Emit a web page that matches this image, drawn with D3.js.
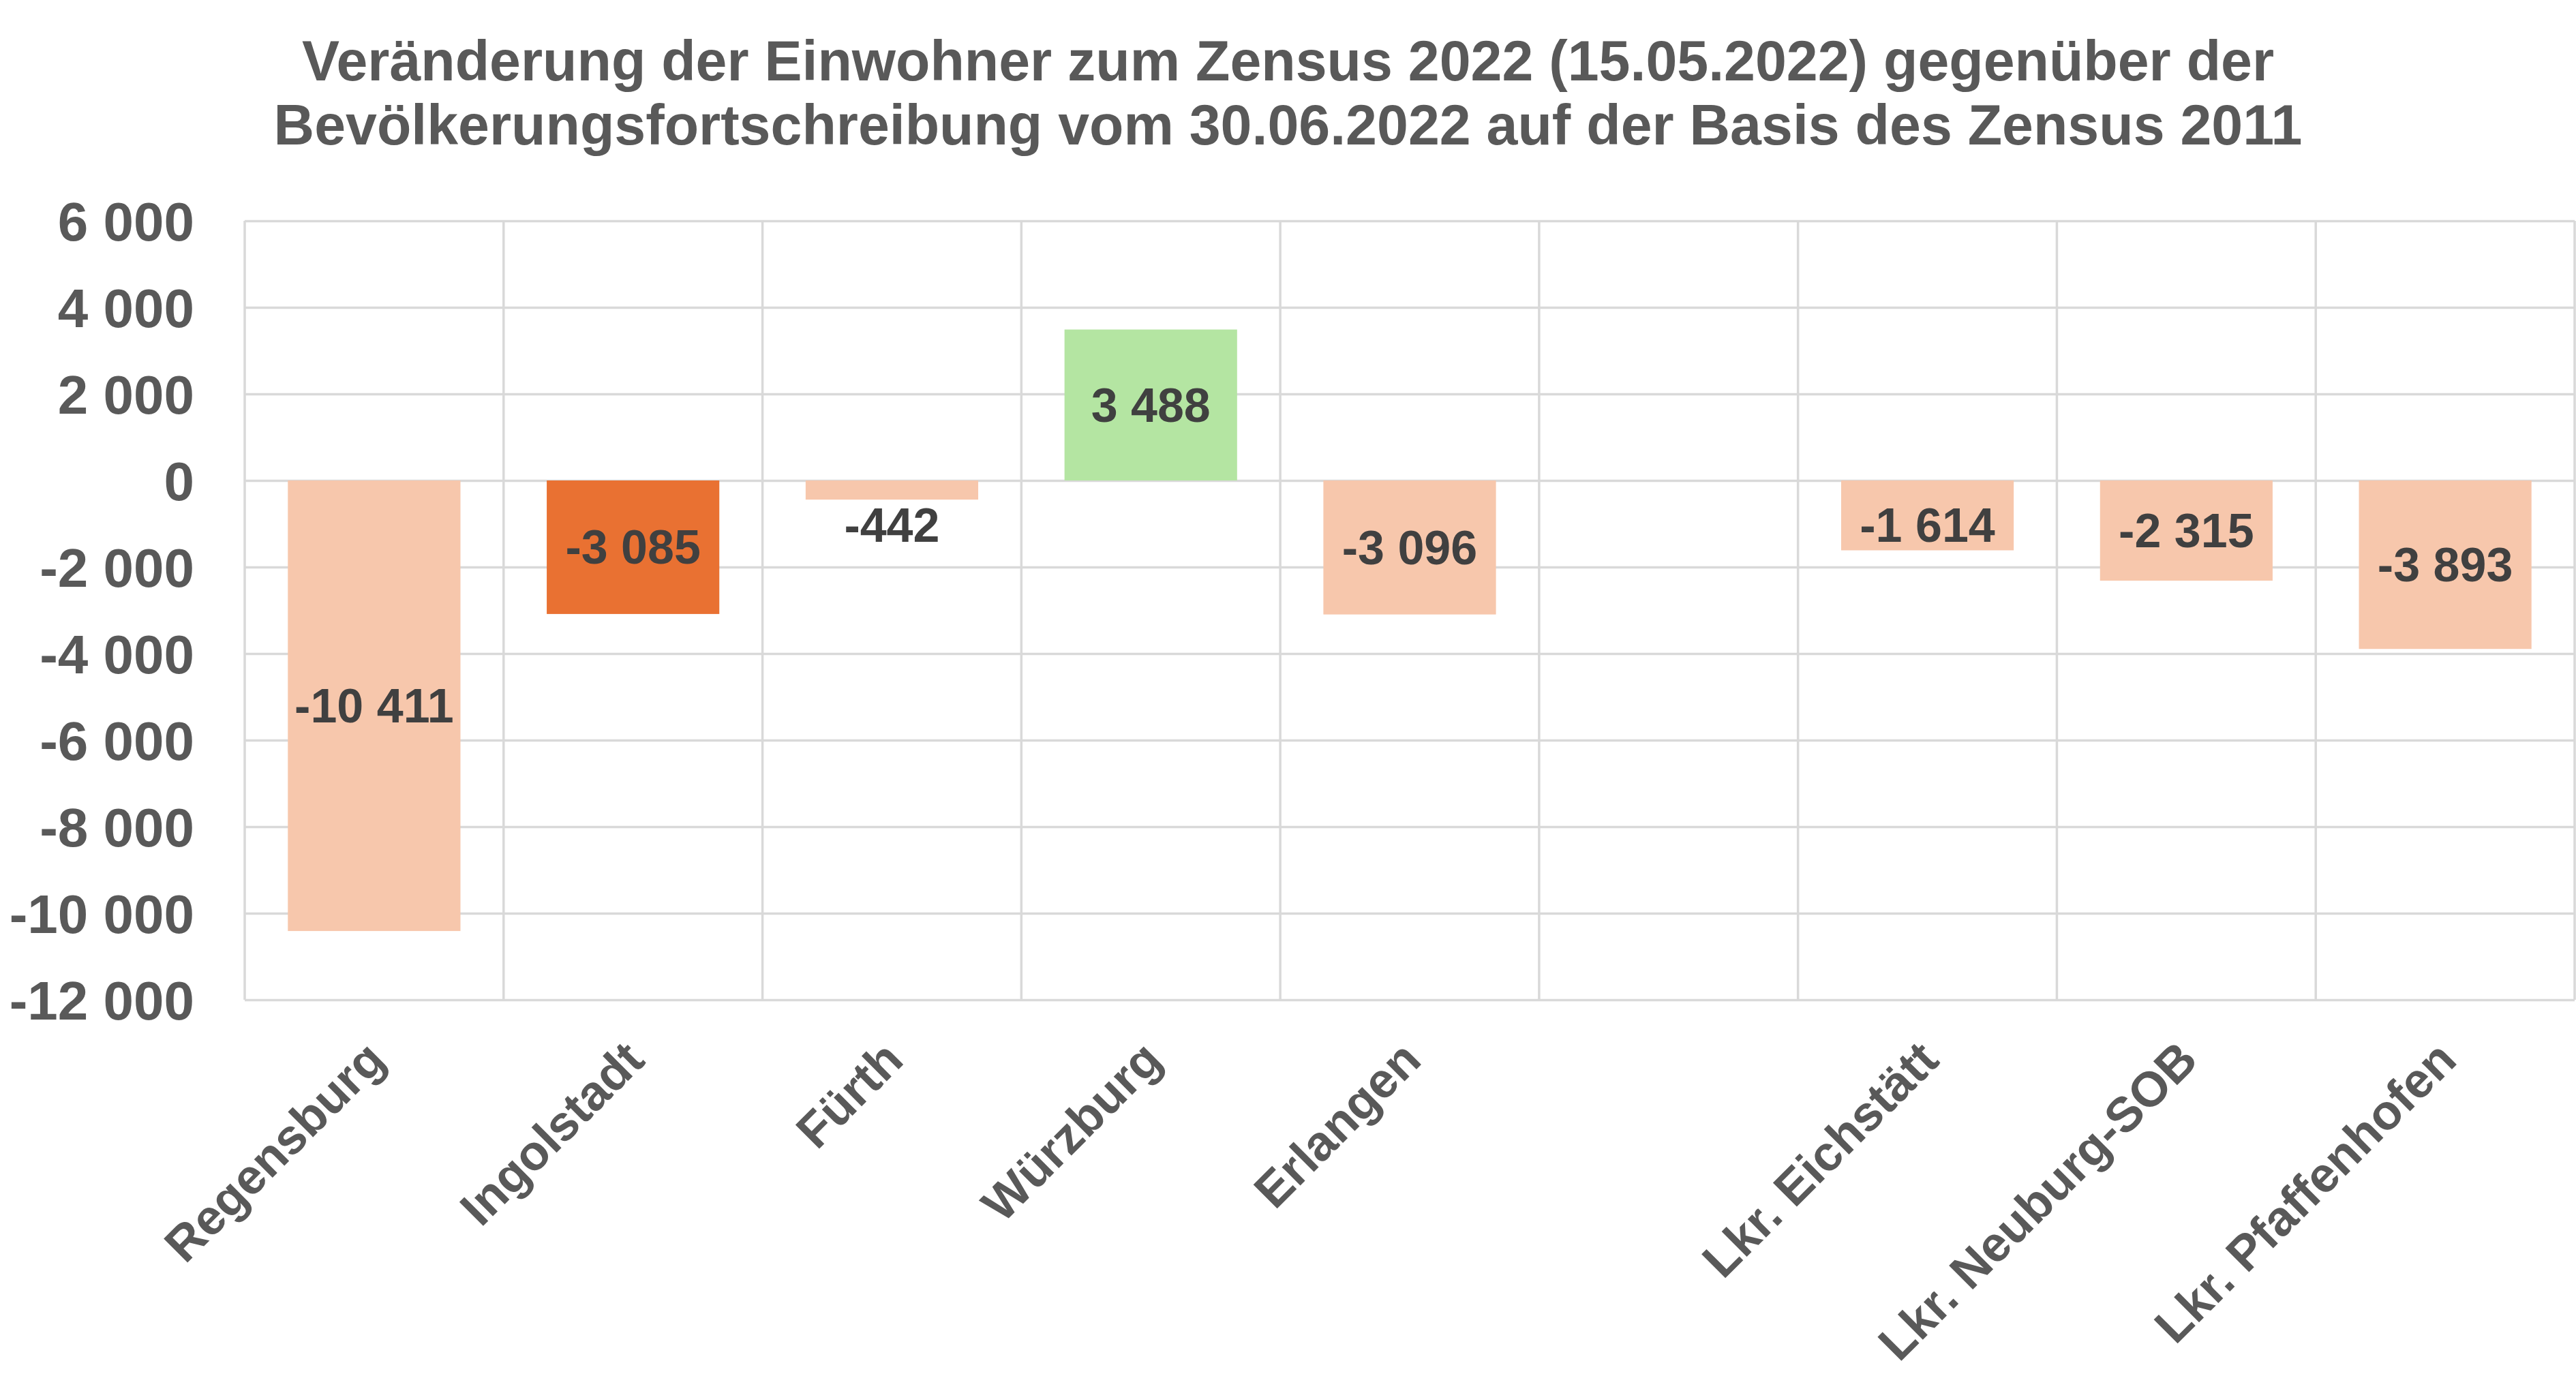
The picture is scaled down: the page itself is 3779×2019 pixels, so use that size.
<!DOCTYPE html>
<html>
<head>
<meta charset="utf-8">
<script src="https://cdn.jsdelivr.net/npm/d3@7"></script>
<style>
  html, body { margin: 0; padding: 0; background: #ffffff; }
  svg { display: block; }
  text { font-family: "Liberation Sans", Arial, sans-serif; font-weight: bold; }
</style>
</head>
<body>
<svg id="chart" width="3779" height="2019"></svg>
<script>
// ---- data ----
const titleLines = [
  "Veränderung der Einwohner zum Zensus 2022 (15.05.2022) gegenüber der",
  "Bevölkerungsfortschreibung vom 30.06.2022 auf der Basis des Zensus 2011"
];
const categories = ["Regensburg", "Ingolstadt", "Fürth", "Würzburg", "Erlangen", "", "Lkr. Eichstätt", "Lkr. Neuburg-SOB", "Lkr. Pfaffenhofen"];
const values = [-10411, -3085, -442, 3488, -3096, null, -1614, -2315, -3893];
const yTicks = [6000, 4000, 2000, 0, -2000, -4000, -6000, -8000, -10000, -12000];

// ---- styles ----
const barColors = ["#F7C7AC", "#E97132", "#F7C7AC", "#B4E5A2", "#F7C7AC", "#F7C7AC", "#F7C7AC", "#F7C7AC", "#F7C7AC"];
const gridColor = "#D9D9D9";
const axisTextColor = "#595959";
const labelColor = "#404040";

const W = 3779, H = 2019;
const plot = { left: 359, right: 3777, top: 324, bottom: 1467 };

const svg = d3.select("#chart");
svg.append("rect").attr("width", W).attr("height", H).attr("fill", "#ffffff");

const loc = d3.formatLocale({ decimal: ",", thousands: " ", grouping: [3], currency: ["", "€"], minus: "-" });
const fmt = loc.format(",d");

const x = d3.scaleBand()
  .domain(categories.map((c, i) => i))
  .range([plot.left, plot.right])
  .paddingInner(1 / 3)
  .paddingOuter(1 / 6);

const y = d3.scaleLinear()
  .domain([d3.min(yTicks), d3.max(yTicks)])
  .range([plot.bottom, plot.top]);

// ---- title ----
const title = svg.append("text")
  .attr("x", W / 2)
  .attr("text-anchor", "middle")
  .attr("fill", axisTextColor)
  .attr("font-size", 82.5);
titleLines.forEach((t, i) => {
  title.append("tspan").attr("x", W / 2).attr("y", 118 + i * 94).text(t);
});

// ---- horizontal gridlines + y axis labels ----
const yAxis = d3.axisLeft(y)
  .tickValues(yTicks)
  .tickSize(-(plot.right - plot.left))
  .tickPadding(74)
  .tickFormat(d => fmt(d));

const gy = svg.append("g")
  .attr("transform", `translate(${plot.left},0)`)
  .call(yAxis);
gy.select(".domain").remove();
gy.selectAll(".tick line").attr("stroke", gridColor).attr("stroke-width", 3.5);
gy.selectAll(".tick text")
  .attr("fill", axisTextColor)
  .attr("font-size", 80)
  .attr("font-family", "'Liberation Sans', Arial, sans-serif")
  .attr("font-weight", "bold")
  .attr("dy", "0.35em");

// ---- vertical gridlines at category boundaries ----
const step = x.step();
const boundaries = d3.range(categories.length + 1).map(i => plot.left + i * step);
svg.append("g").selectAll("line")
  .data(boundaries)
  .join("line")
  .attr("x1", d => d).attr("x2", d => d)
  .attr("y1", plot.top).attr("y2", plot.bottom)
  .attr("stroke", gridColor)
  .attr("stroke-width", 3.5);

// ---- bars ----
const barData = categories.map((c, i) => ({ c, i, v: values[i], color: barColors[i] })).filter(d => d.v !== null);

svg.append("g").selectAll("rect")
  .data(barData)
  .join("rect")
  .attr("x", d => x(d.i))
  .attr("width", x.bandwidth())
  .attr("y", d => Math.min(y(d.v), y(0)))
  .attr("height", d => Math.abs(y(d.v) - y(0)))
  .attr("fill", d => d.color);

// ---- data labels ----
const minLabelOffset = 65;
svg.append("g").selectAll("text")
  .data(barData)
  .join("text")
  .attr("x", d => x(d.i) + x.bandwidth() / 2)
  .attr("y", d => {
    const c = (y(d.v) + y(0)) / 2;
    return d.v >= 0 ? c : Math.max(c, y(0) + minLabelOffset);
  })
  .attr("dy", "0.35em")
  .attr("text-anchor", "middle")
  .attr("fill", labelColor)
  .attr("font-size", 70)
  .text(d => fmt(d.v));

// ---- x axis category labels ----
svg.append("g").selectAll("text")
  .data(categories.map((c, i) => ({ c, i })).filter(d => d.c !== ""))
  .join("text")
  .attr("transform", d => `translate(${x(d.i) + x.bandwidth() / 2 + 20},${plot.bottom + 92}) rotate(-45)`)
  .attr("text-anchor", "end")
  .attr("fill", axisTextColor)
  .attr("font-size", 72)
  .text(d => d.c);
</script>
</body>
</html>
